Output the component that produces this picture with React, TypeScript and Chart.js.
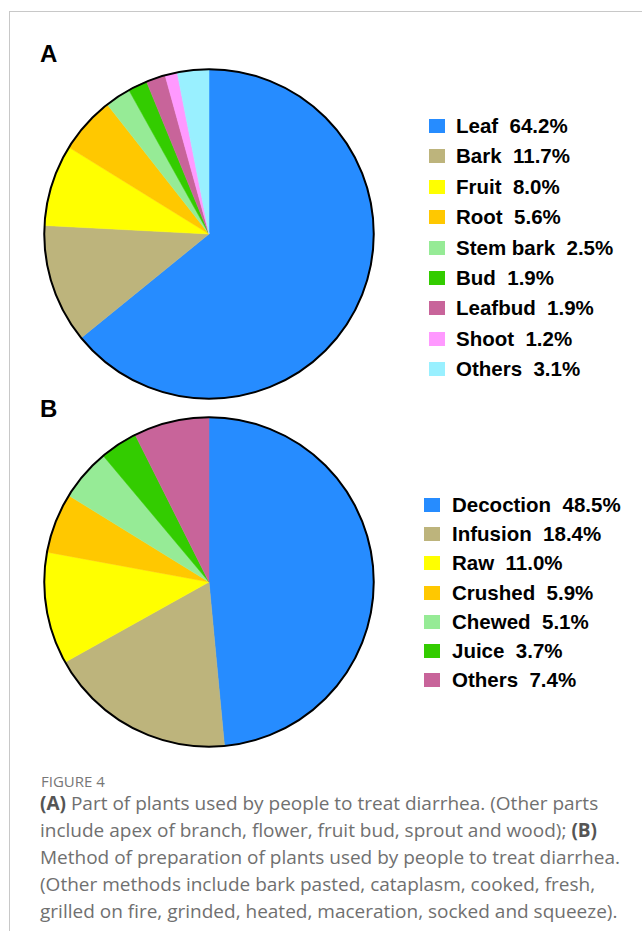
import React, { useEffect, useRef } from "react";
import { Chart, registerables } from "chart.js";

Chart.register(...registerables);

const partLabels = ["Leaf", "Bark", "Fruit", "Root", "Stem bark", "Bud", "Leafbud", "Shoot", "Others"];
const partValues = [64.2, 11.7, 8.0, 5.6, 2.5, 1.9, 1.9, 1.2, 3.1];
const partColors = ["#268cff", "#bdb47c", "#ffff00", "#ffc800", "#96eb96", "#33cc00", "#c8649a", "#ff99ff", "#99f0ff"];

const methodLabels = ["Decoction", "Infusion", "Raw", "Crushed", "Chewed", "Juice", "Others"];
const methodValues = [48.5, 18.4, 11.0, 5.9, 5.1, 3.7, 7.4];
const methodColors = ["#268cff", "#bdb47c", "#ffff00", "#ffc800", "#96eb96", "#33cc00", "#c8649a"];

const outlinePlugin = {
  id: "outline",
  afterDatasetsDraw(chart: any) {
    const meta = chart.getDatasetMeta(0);
    const arc = meta.data[0];
    if (!arc) return;
    const { x, y, outerRadius } = arc.getProps(["x", "y", "outerRadius"], true);
    const ctx = chart.ctx;
    ctx.save();
    ctx.beginPath();
    ctx.arc(x, y, outerRadius, 0, Math.PI * 2);
    ctx.lineWidth = 2;
    ctx.strokeStyle = "#000";
    ctx.stroke();
    ctx.restore();
  },
};

function Pie({ labels, values, colors, left, top, size }: any) {
  const ref = useRef<HTMLCanvasElement>(null);
  useEffect(() => {
    const chart = new Chart(ref.current!, {
      type: "pie",
      data: {
        labels,
        datasets: [
          {
            data: values,
            backgroundColor: colors,
            borderColor: colors,
            borderWidth: 0.5,
          },
        ],
      },
      options: {
        animation: false,
        responsive: false,
        maintainAspectRatio: false,
        layout: { padding: 5 },
        plugins: { legend: { display: false }, tooltip: { enabled: false } },
      },
      plugins: [outlinePlugin],
    });
    return () => chart.destroy();
  }, []);
  return (
    <canvas
      ref={ref}
      width={size}
      height={size}
      style={{ position: "absolute", left, top, width: size, height: size }}
    />
  );
}

function Legend({ labels, values, colors, left, top, step, textOffset }: any) {
  return (
    <>
      {labels.map((l: string, i: number) => (
        <div
          key={l}
          style={{
            position: "absolute",
            left,
            top: top + i * step - 12,
            height: 24,
            display: "flex",
            alignItems: "center",
            whiteSpace: "pre",
            fontFamily: "'Liberation Sans', Arial, sans-serif",
            fontWeight: "bold",
            fontSize: 20.5,
            color: "#000",
          }}
        >
          <span style={{ display: "inline-block", width: 16, height: 14, background: colors[i], marginRight: textOffset - 16 }} />
          <span>{`${l}  ${values[i].toFixed(1)}%`}</span>
        </div>
      ))}
    </>
  );
}

const captionLines = [
  [["(A)", true], [" Part of plants used by people to treat diarrhea. (Other parts", false]],
  [["include apex of branch, flower, fruit bud, sprout and wood); ", false], ["(B)", true]],
  [["Method of preparation of plants used by people to treat diarrhea.", false]],
  [["(Other methods include bark pasted, cataplasm, cooked, fresh,", false]],
  [["grilled on fire, grinded, heated, maceration, socked and squeeze).", false]],
];

export default function App() {
  return (
    <div style={{ position: "absolute", left: 0, top: 0, width: 642, height: 931, background: "#fff", overflow: "hidden" }}>
      <div style={{ position: "absolute", left: 9, top: 11, width: 633, height: 1, background: "#c8c8c8" }} />
      <div style={{ position: "absolute", left: 9, top: 11, width: 1, height: 920, background: "#c8c8c8" }} />

      <div style={{ position: "absolute", left: 40, top: 40, fontFamily: "'Liberation Sans', Arial, sans-serif", fontWeight: "bold", fontSize: 24, lineHeight: "28px" }}>A</div>
      <div style={{ position: "absolute", left: 40, top: 395, fontFamily: "'Liberation Sans', Arial, sans-serif", fontWeight: "bold", fontSize: 24, lineHeight: "28px" }}>B</div>

      <Pie labels={partLabels} values={partValues} colors={partColors} left={209 - 170} top={234 - 170} size={340} />
      <Pie labels={methodLabels} values={methodValues} colors={methodColors} left={209 - 170} top={582 - 170} size={340} />

      <Legend labels={partLabels} values={partValues} colors={partColors} left={429} top={126} step={30.4} textOffset={27} />
      <Legend labels={methodLabels} values={methodValues} colors={methodColors} left={424} top={505} step={29.2} textOffset={28} />

      <div style={{ position: "absolute", left: 41, top: 772, fontFamily: "'Open Sans', sans-serif", fontSize: 15, lineHeight: "18px", color: "#777", fontWeight: 500 }}>FIGURE 4</div>
      <div style={{ position: "absolute", left: 40, top: 790, fontFamily: "'Open Sans', sans-serif", fontSize: 19, lineHeight: "27px", color: "#707070", whiteSpace: "nowrap" }}>
        {captionLines.map((line, i) => (
          <div key={i}>
            {line.map(([t, b]: any, j: number) => (
              <span key={j} style={b ? { fontWeight: "bold", color: "#555" } : undefined}>{t}</span>
            ))}
          </div>
        ))}
      </div>
    </div>
  );
}
